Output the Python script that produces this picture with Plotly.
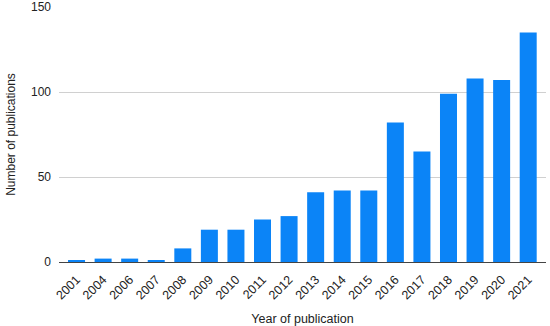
import plotly.graph_objects as go

years = ["2001", "2004", "2006", "2007", "2008", "2009", "2010", "2011", "2012",
         "2013", "2014", "2015", "2016", "2017", "2018", "2019", "2020", "2021"]
counts = [1, 2, 2, 1, 8, 19, 19, 25, 27, 41, 42, 42, 82, 65, 99, 108, 107, 135]
y_ticks = [0, 50, 100, 150]

fig = go.Figure(go.Bar(x=years, y=counts, marker=dict(color="#0b84f7", line=dict(width=0))))

fig.update_layout(
    width=550, height=326,
    margin=dict(l=59, r=4, t=7, b=64, autoexpand=False),
    paper_bgcolor="white", plot_bgcolor="white",
    bargap=0.36,
    showlegend=False,
    font=dict(family="Liberation Sans, Arial, sans-serif", color="#222", size=12),
)
fig.update_xaxes(
    type="category", range=[-0.66, len(years) - 0.33], tickangle=-45, tickfont=dict(size=12.5),
    title=dict(text="Year of publication", font=dict(size=12.5), standoff=13),
    showline=False, showgrid=False, ticks="", automargin=False,
    ticklabelstandoff=7,
)
fig.update_yaxes(
    range=[0, 150], tickvals=y_ticks, tickfont=dict(size=12),
    title=dict(text="Number of publications", font=dict(size=12), standoff=12),
    showgrid=True, gridcolor="#d0d0d0", gridwidth=1,
    zeroline=True, zerolinecolor="#444", zerolinewidth=1.2,
    ticks="", ticklabelstandoff=7, automargin=False,
)
fig.write_html("out.html", config={"displayModeBar": False},
               post_script="document.body.style.margin='0';")
